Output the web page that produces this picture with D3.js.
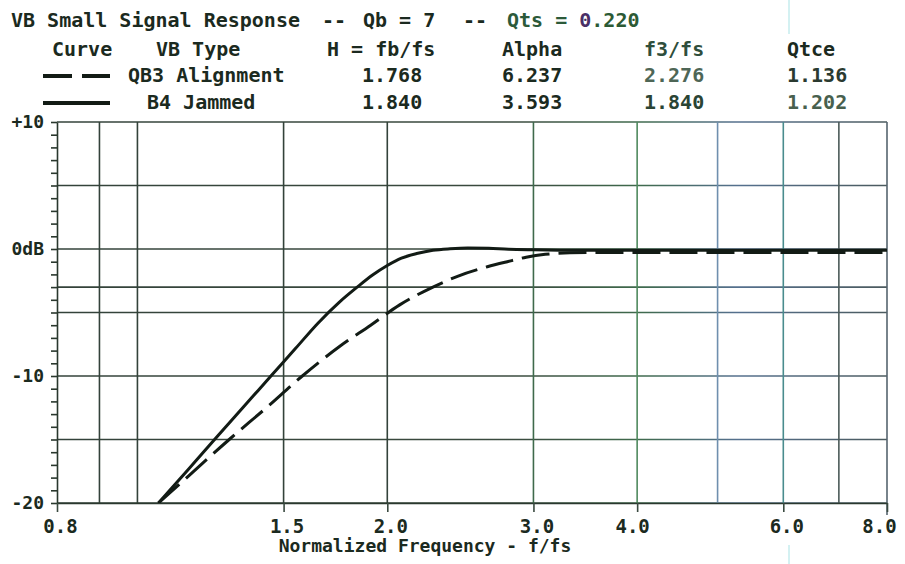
<!DOCTYPE html>
<html>
<meta charset="utf-8">
<head>
  <title>VB Small Signal Response</title>
</head>

<style>
body {
  margin: 0;
  background: #fff;
}
text {
  font-family: "DejaVu Sans Mono", "Liberation Mono", monospace;
  font-weight: bold;
  fill: #1b2a20;
}
.curve {
  fill: none;
  stroke: #121b15;
  stroke-width: 3;
}
</style>

<body>
  <svg width="905" height="564"></svg>

  <script src="https://cdnjs.cloudflare.com/ajax/libs/d3/7.8.5/d3.min.js"></script>

  <script>
var width = 905, height = 564
var plotLeft = 57, plotRight = 887, plotTop = 122, plotBottom = 503

// response curves (f/fs, dB)
var freqQB3 = [1.06, 1.16, 1.29, 1.43, 1.58, 1.75, 1.91, 2.07, 2.27, 2.43, 2.64, 2.79, 2.94, 3.10, 3.32, 3.82, 5.00, 6.00, 8.00]
var dbQB3 = [-20, -17.7, -15, -12.5, -10, -7.7, -6.0, -4.4, -3.0, -2.15, -1.4, -1.0, -0.65, -0.42, -0.3, -0.27, -0.27, -0.27, -0.27]
var freqB4 = [1.06, 1.15, 1.25, 1.35, 1.45, 1.55, 1.65, 1.75, 1.84, 1.92, 2.00, 2.08, 2.17, 2.27, 2.38, 2.50, 2.65, 2.80, 3.00, 3.40, 4.00, 5.00, 6.00, 8.00]
var dbB4 = [-20, -17.4, -14.7, -12.25, -9.96, -7.84, -5.84, -4.2, -3.0, -2.05, -1.3, -0.72, -0.36, -0.1, 0.02, 0.08, 0.05, -0.02, -0.06, -0.1, -0.1, -0.1, -0.1, -0.1]

// table in the header
var curveTypes = ['QB3 Alignment', 'B4 Jammed']
var hValues = ['1.768', '1.840']
var alphaValues = ['6.237', '3.593']
var f3Values = ['2.276', '1.840']
var qtceValues = ['1.136', '1.202']

// axes and grid
var xTicks = [0.8, 1.5, 2.0, 3.0, 4.0, 6.0, 8.0]
var xGrid = [0.9, 1.0, 1.5, 2.0, 3.0, 4.0, 5.0, 6.0, 7.0]
var yGrid = [10, 5, 0, -3, -5, -10, -15, -20]
var yLabelValues = [10, 0, -10, -20]
var yLabels = ['+10', '0dB', '-10', '-20']

var x = d3.scaleLog().domain([0.8, 8.0]).range([plotLeft, plotRight])
var y = d3.scaleLinear().domain([-20, 10]).range([plotBottom, plotTop])

var svg = d3.select('svg')

// the scan has coloured tints on the right half of the grid
function gridColor(f) {
  if (f >= 7) return '#4b5a58'
  if (f >= 6) return '#4a8c8e'
  if (f >= 5) return '#6f8fae'
  if (f >= 4) return '#4f8a5e'
  if (f >= 3) return '#3f6a4c'
  return '#33423a'
}

var defs = svg.append('defs')
var grad = defs.append('linearGradient')
  .attr('id', 'hgrid')
  .attr('gradientUnits', 'userSpaceOnUse')
  .attr('x1', plotLeft).attr('x2', plotRight).attr('y1', 0).attr('y2', 0)
grad.append('stop').attr('offset', '0%').attr('stop-color', '#33423a')
grad.append('stop').attr('offset', '55%').attr('stop-color', '#3a4a3e')
grad.append('stop').attr('offset', '70%').attr('stop-color', '#3f6a4c')
grad.append('stop').attr('offset', '82%').attr('stop-color', '#55708e')
grad.append('stop').attr('offset', '100%').attr('stop-color', '#4b5a5e')

defs.append('clipPath').attr('id', 'plotclip')
  .append('rect')
  .attr('x', plotLeft).attr('y', plotTop)
  .attr('width', plotRight - plotLeft).attr('height', plotBottom - plotTop)

// faint scan artefact
svg.append('line')
  .attr('x1', 789).attr('x2', 789).attr('y1', 0).attr('y2', 34)
  .attr('stroke', '#c6ecee').attr('stroke-width', 1.5)
svg.append('line')
  .attr('x1', 789).attr('x2', 789).attr('y1', 545).attr('y2', 564)
  .attr('stroke', '#c6ecee').attr('stroke-width', 1.5)

// horizontal grid
svg.append('g').attr('class', 'hgrid')
  .selectAll('line')
  .data(yGrid)
  .enter()
  .append('line')
  .attr('x1', plotLeft)
  .attr('x2', plotRight)
  .attr('y1', function(d) { return y(d) })
  .attr('y2', function(d) { return y(d) })
  .attr('stroke', 'url(#hgrid)')
  .attr('stroke-width', 1.6)

// vertical grid
svg.append('g').attr('class', 'vgrid')
  .selectAll('line')
  .data(xGrid)
  .enter()
  .append('line')
  .attr('x1', function(d) { return x(d) })
  .attr('x2', function(d) { return x(d) })
  .attr('y1', plotTop)
  .attr('y2', plotBottom)
  .attr('stroke', function(d) { return gridColor(d) })
  .attr('stroke-width', 1.6)

// right border
svg.append('line')
  .attr('x1', plotRight).attr('x2', plotRight)
  .attr('y1', plotTop).attr('y2', plotBottom + 12)
  .attr('stroke', '#56646e').attr('stroke-width', 1.6)

// left axis with 1 dB minor ticks
var yAxis = svg.append('g')
  .attr('transform', 'translate(' + plotLeft + ',0)')
  .call(d3.axisLeft(y).tickValues(d3.range(-20, 11)).tickSize(6).tickSizeOuter(0).tickFormat(''))
yAxis.select('.domain').attr('stroke', '#2a382e').attr('stroke-width', 1.6)
yAxis.selectAll('.tick line').attr('stroke', '#2a382e').attr('stroke-width', 1.6)

svg.append('g')
  .selectAll('text')
  .data(yLabelValues)
  .enter()
  .append('text')
  .attr('x', 44)
  .attr('y', function(d) { return y(d) + 6 })
  .attr('text-anchor', 'end')
  .attr('font-size', 18)
  .text(function(d, i) { return yLabels[i] })

// bottom axis
var xAxis = svg.append('g')
  .attr('transform', 'translate(0,' + plotBottom + ')')
  .call(d3.axisBottom(x).tickValues(xTicks).tickSize(9).tickSizeOuter(0).tickFormat(d3.format('.1f')))
xAxis.select('.domain').attr('stroke', '#2a382e').attr('stroke-width', 1.6)
xAxis.selectAll('.tick line').attr('stroke', '#3a4a40').attr('stroke-width', 1.6)
xAxis.selectAll('.tick text')
  .attr('y', 30)
  .attr('dy', 0)
  .attr('dx', function(d) { return d == 8 ? -8 : d == 4 ? -5 : 3 })
  .attr('font-size', 19)

svg.append('text')
  .attr('x', 425)
  .attr('y', 552)
  .attr('text-anchor', 'middle')
  .attr('font-size', 18)
  .text('Normalized Frequency - f/fs')

// curves
var line = d3.line()
  .x(function(d) { return x(d[0]) })
  .y(function(d) { return y(d[1]) })
  .curve(d3.curveMonotoneX)

var curves = svg.append('g').attr('clip-path', 'url(#plotclip)')
curves.append('path')
  .datum(d3.zip(freqB4, dbB4))
  .attr('class', 'curve')
  .attr('d', line)
curves.append('path')
  .datum(d3.zip(freqQB3, dbQB3))
  .attr('class', 'curve')
  .attr('stroke-dasharray', '28,9')
  .attr('d', line)

// title line
var title = svg.append('text').attr('y', 27).attr('font-size', 20)
title.append('tspan').attr('x', 11).text('VB Small Signal Response')
title.append('tspan').attr('x', 322).text('--')
title.append('tspan').attr('x', 363).text('Qb = 7')
title.append('tspan').attr('x', 463).text('--')
title.append('tspan').attr('x', 507).style('fill', '#2c5a3a').text('Qts = ')
title.append('tspan').style('fill', '#4a2f66').text('0')
title.append('tspan').style('fill', '#2c5a34').text('.220')

// table header
var head = svg.append('g').attr('font-size', 20)
head.append('text').attr('x', 52).attr('y', 56).text('Curve')
head.append('text').attr('x', 156).attr('y', 56).text('VB Type')
head.append('text').attr('x', 327).attr('y', 56).text('H = fb/fs')
head.append('text').attr('x', 502).attr('y', 56).text('Alpha')
head.append('text').attr('x', 644).attr('y', 56).style('fill', '#2f4e3c').text('f3/fs')
head.append('text').attr('x', 787).attr('y', 56).text('Qtce')

// table rows
var rowY = [82, 109]
var typeX = [128, 147]
var rows = svg.append('g').attr('font-size', 20)
  .selectAll('g')
  .data(curveTypes)
  .enter()
  .append('g')

rows.append('text').attr('x', function(d, i) { return typeX[i] }).attr('y', function(d, i) { return rowY[i] })
  .text(function(d) { return d })
rows.append('text').attr('x', 362).attr('y', function(d, i) { return rowY[i] })
  .text(function(d, i) { return hValues[i] })
rows.append('text').attr('x', 502).attr('y', function(d, i) { return rowY[i] })
  .text(function(d, i) { return alphaValues[i] })
rows.append('text').attr('x', 644).attr('y', function(d, i) { return rowY[i] })
  .style('fill', function(d, i) { return i == 0 ? '#4e6656' : '#2a4434' })
  .text(function(d, i) { return f3Values[i] })
rows.append('text').attr('x', 787).attr('y', function(d, i) { return rowY[i] })
  .style('fill', function(d, i) { return i == 0 ? '#2a3a30' : '#48604e' })
  .text(function(d, i) { return qtceValues[i] })

// legend samples
rows.append('line')
  .attr('x1', 43).attr('x2', 110)
  .attr('y1', function(d, i) { return rowY[i] - 6 })
  .attr('y2', function(d, i) { return rowY[i] - 6 })
  .attr('stroke', '#121b15')
  .attr('stroke-width', 4)
  .attr('stroke-dasharray', function(d, i) { return i == 0 ? '29,10' : null })
  </script>
</body>
</html>
